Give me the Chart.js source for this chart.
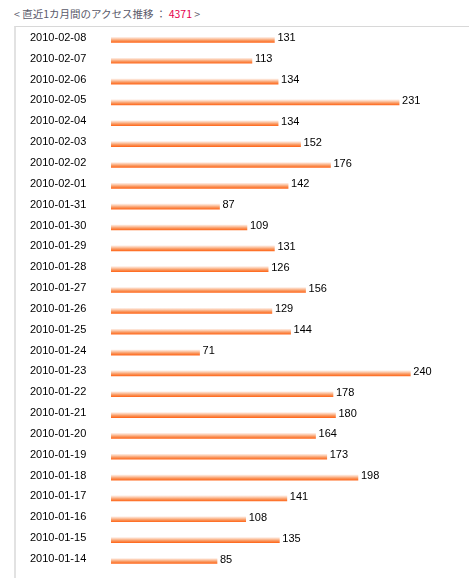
<!DOCTYPE html>
<html><head><meta charset="utf-8">
<script src="https://cdn.jsdelivr.net/npm/chart.js@4.4.0/dist/chart.umd.min.js"></script>
<style>
html,body{margin:0;padding:0;background:#fff;width:469px;height:578px;overflow:hidden;}
#title{position:absolute;left:14px;top:6px;font-family:"Noto Sans CJK JP",sans-serif;font-size:10.5px;color:#5a5a6a;white-space:nowrap;line-height:16px;}
#title .num{color:#e6004c;}
#box{position:absolute;left:14px;top:26px;width:460px;height:560px;border-top:1px solid #d8d8d8;border-left:2px solid #e2e2e2;}
#wrap{position:absolute;left:0;top:0;width:469px;height:578px;}
</style></head>
<body>
<div id="title">&lt; 直近1カ月間のアクセス推移 ： <span class="num">4371</span> &gt;</div>
<div id="box"></div>
<div id="wrap"><canvas id="c"></canvas></div>
<script>
const dates = ["2010-02-08","2010-02-07","2010-02-06","2010-02-05","2010-02-04","2010-02-03","2010-02-02","2010-02-01","2010-01-31","2010-01-30","2010-01-29","2010-01-28","2010-01-27","2010-01-26","2010-01-25","2010-01-24","2010-01-23","2010-01-22","2010-01-21","2010-01-20","2010-01-19","2010-01-18","2010-01-17","2010-01-16","2010-01-15","2010-01-14"];
const visits = [131,113,134,231,134,152,176,142,87,109,131,126,156,129,144,71,240,178,180,164,173,198,141,108,135,85];
const axisMax = 280;

const FONT = {family:"'Liberation Sans', Arial, sans-serif", size:11};

function barGradient(ctx){
  const chart = ctx.chart;
  const ys = chart.scales && chart.scales.y;
  if(!ys || ctx.dataIndex === undefined) return '#fb8a4e';
  const y = ys.getPixelForValue(ctx.dataIndex);
  if(!isFinite(y)) return '#fb8a4e';
  const g = chart.ctx.createLinearGradient(0, y-2.5, 0, y+2.5);
  g.addColorStop(0, '#feeadf');
  g.addColorStop(0.3, '#fcc4a3');
  g.addColorStop(0.6, '#f99a63');
  g.addColorStop(1, '#ff6a1f');
  return g;
}

const valueLabels = {
  id:'valueLabels',
  afterDatasetsDraw(chart){
    const c = chart.ctx;
    const meta = chart.getDatasetMeta(0);
    c.save();
    c.font = FONT.size + "px " + FONT.family;
    c.fillStyle = '#000';
    c.textAlign = 'left';
    c.textBaseline = 'middle';
    meta.data.forEach((el,i)=>{
      c.fillText(String(chart.data.datasets[0].data[i]), el.x + 3, el.y - 1.5);
    });
    c.restore();
  }
};

new Chart(document.getElementById('c'), {
  type:'bar',
  data:{labels:dates, datasets:[{data:visits, backgroundColor:barGradient, barThickness:5, borderWidth:0}]},
  options:{
    indexAxis:'y',
    responsive:true,
    maintainAspectRatio:false,
    animation:false,
    layout:{padding:{left:30, top:29.5, bottom:1, right:8.8}},
    plugins:{legend:{display:false}, tooltip:{enabled:false}},
    scales:{
      x:{display:false, min:0, max:axisMax},
      y:{
        grid:{display:false},
        border:{display:false},
        afterFit(scale){ scale.width = 81; },
        ticks:{crossAlign:'far', padding:0, color:'#000', font:FONT, labelOffset:-2, autoSkip:false}
      }
    }
  },
  plugins:[valueLabels]
});
</script>
</body></html>
